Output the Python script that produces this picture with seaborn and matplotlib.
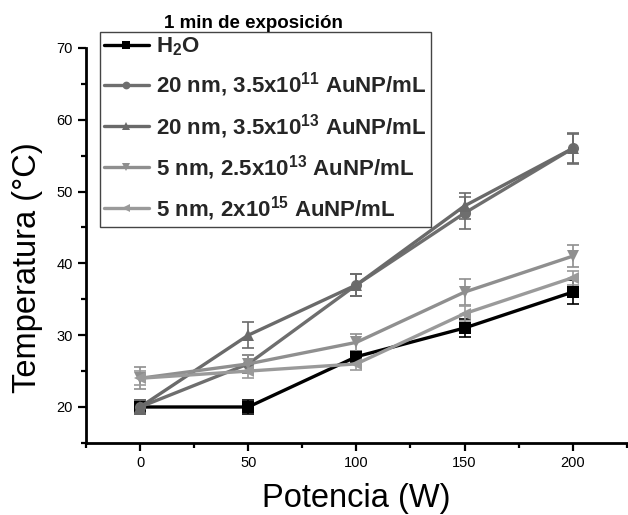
import matplotlib
matplotlib.use("Agg")
import matplotlib.pyplot as plt
import seaborn as sns
import pandas as pd
from matplotlib.ticker import MultipleLocator

# Irradiation power (W)
potencia = [0, 50, 100, 150, 200]

# Temperature (°C) after 1 min for each sample, with standard deviations
t_h2o = [20, 20, 27, 31, 36]
e_h2o = [1.0, 1.0, 0.8, 1.3, 1.7]

t_20nm_11 = [20, 26, 37, 47, 56]
e_20nm_11 = [1.0, 1.2, 1.5, 2.2, 2.2]

t_20nm_13 = [20, 30, 37, 48, 56]
e_20nm_13 = [1.0, 1.8, 1.5, 1.8, 2.0]

t_5nm_13 = [24, 26, 29, 36, 41]
e_5nm_13 = [1.5, 1.2, 1.2, 1.8, 1.5]

t_5nm_15 = [24, 25, 26, 33, 38]
e_5nm_15 = [1.0, 1.0, 0.8, 1.0, 1.0]

etiquetas = [
    r"H$_\mathbf{2}$O",
    r"20 nm, 3.5x10$^{\mathbf{11}}$ AuNP/mL",
    r"20 nm, 3.5x10$^{\mathbf{13}}$ AuNP/mL",
    r"5 nm, 2.5x10$^{\mathbf{13}}$ AuNP/mL",
    r"5 nm, 2x10$^{\mathbf{15}}$ AuNP/mL",
]
series = [t_h2o, t_20nm_11, t_20nm_13, t_5nm_13, t_5nm_15]
errores = [e_h2o, e_20nm_11, e_20nm_13, e_5nm_13, e_5nm_15]
colores = ["#000000", "#6e6e6e", "#6a6a6a", "#8f8f8f", "#9a9a9a"]
marcadores = ["s", "o", "^", "v", "<"]

sns.set_theme(style="ticks")
plt.rcParams["font.family"] = ["Liberation Sans", "DejaVu Sans"]
plt.rcParams["mathtext.fontset"] = "custom"
plt.rcParams["mathtext.rm"] = "Liberation Sans:bold"
plt.rcParams["mathtext.bf"] = "Liberation Sans:bold"

filas = []
for nombre, ys, es in zip(etiquetas, series, errores):
    for x, y, e in zip(potencia, ys, es):
        filas.append({"Potencia": x, "Temperatura": y, "err": e, "Muestra": nombre})
df = pd.DataFrame(filas)

fig = plt.figure(figsize=(6.28, 5.15), dpi=100)
ax = fig.add_axes([0.137, 0.14, 0.861, 0.767])

for nombre, color, es in zip(etiquetas, colores, errores):
    sub = df[df["Muestra"] == nombre]
    ax.errorbar(sub["Potencia"], sub["Temperatura"], yerr=sub["err"], fmt="none",
                ecolor=color, elinewidth=1.2, capsize=4, capthick=1.2, zorder=2)

sns.lineplot(data=df, x="Potencia", y="Temperatura", hue="Muestra", style="Muestra",
             hue_order=etiquetas, style_order=etiquetas,
             palette=dict(zip(etiquetas, colores)),
             markers=dict(zip(etiquetas, marcadores)), dashes=False,
             linewidth=2.4, markersize=8, markeredgewidth=0,
             ax=ax, zorder=3)

ax.set_xlim(-25, 225)
ax.set_ylim(15, 70)
ax.xaxis.set_major_locator(MultipleLocator(50))
ax.xaxis.set_minor_locator(MultipleLocator(25))
ax.yaxis.set_major_locator(MultipleLocator(10))
ax.yaxis.set_minor_locator(MultipleLocator(5))
ax.set_yticks([20, 30, 40, 50, 60, 70])
sns.despine(ax=ax)
for s in ["left", "bottom"]:
    ax.spines[s].set_linewidth(2.0)
    ax.spines[s].set_color("black")
ax.tick_params(axis="both", which="major", direction="out", length=6, width=1.6,
               labelsize=10.5, color="black", labelcolor="black")
ax.tick_params(axis="both", which="minor", direction="out", length=3.5, width=1.6,
               color="black")
ax.set_xlabel("Potencia (W)", fontsize=23.5, color="black", labelpad=9)
ax.set_ylabel("Temperatura (°C)", fontsize=23.5, color="black")
ax.yaxis.set_label_coords(-0.08, 0.443)

leg = ax.legend(loc="upper left", bbox_to_anchor=(0.026, 1.041), frameon=True,
                fancybox=False, edgecolor="#444444", framealpha=1,
                prop={"weight": "bold", "size": 16}, handlelength=2.0,
                handletextpad=0.35, labelspacing=0.55, borderpad=0.18,
                borderaxespad=0, markerscale=0.7)
leg.get_frame().set_linewidth(1.0)
for h in leg.legend_handles:
    h.set_linewidth(2.4)

fig.text(0.404, 0.9456, "1 min de exposición", fontsize=13.5, fontweight="bold",
         ha="center", va="baseline", color="black")

fig.savefig("out.png", dpi=100)
